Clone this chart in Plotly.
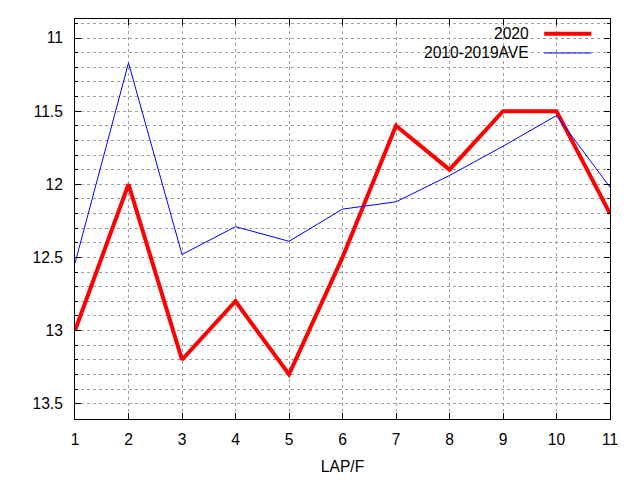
import plotly.graph_objects as go

laps = [1, 2, 3, 4, 5, 6, 7, 8, 9, 10, 11]
times_2020 = [13.0, 12.0, 13.2, 12.8, 13.3, 12.5, 11.6, 11.9, 11.5, 11.5, 12.2]
times_ave = [12.54, 11.17, 12.48, 12.29, 12.39, 12.17, 12.12, 11.94, 11.74, 11.53, 12.02]
legend_names = ["2020", "2010-2019AVE"]
colors = ["#ff0000", "#0000ff"]
widths = [4, 1]

FS = 15.6

fig = go.Figure()
for name, ys, c, w in zip(legend_names, [times_2020, times_ave], colors, widths):
    fig.add_trace(go.Scatter(x=laps, y=ys, mode="lines", name=name,
                             line=dict(color=c, width=w), showlegend=False))

# gnuplot style key: text right aligned, sample line to the right
key_y = [0.963, 0.915]
for name, c, w, ky in zip(legend_names, colors, widths, key_y):
    fig.add_annotation(xref="paper", yref="paper", x=0.853, y=ky, text=name,
                       showarrow=False, xanchor="right", yanchor="middle",
                       font=dict(size=FS, color="black"))
    fig.add_shape(type="line", xref="paper", yref="paper",
                  x0=0.877, x1=0.965, y0=ky, y1=ky,
                  line=dict(color=c, width=w))

grid = dict(gridcolor="#a0a0a0", griddash="3px,3px", gridwidth=1)

fig.update_xaxes(range=[1, 11], dtick=1, ticks="inside", ticklen=6,
                 showline=True, linecolor="black", linewidth=1, mirror="allticks",
                 tickcolor="black", tickfont=dict(size=FS), ticklabelstandoff=6,
                 title=dict(text="LAP/F", standoff=14, font=dict(size=FS)),
                 zeroline=False, **grid)
fig.update_yaxes(range=[13.605, 10.87], dtick=0.5, tick0=11, ticks="inside", ticklen=6,
                 showline=True, linecolor="black", linewidth=1, mirror="allticks",
                 tickcolor="black", tickfont=dict(size=FS), zeroline=False,
                 ticklabelstandoff=8,
                 minor=dict(dtick=0.1, ticks="inside", ticklen=3, tickcolor="black",
                            showgrid=True, **grid),
                 **grid)

# page body adds 8px offset, margins compensate so the plot box sits where it should
fig.update_layout(
    width=640, height=480,
    margin=dict(l=67, r=38, t=11, b=69),
    plot_bgcolor="white", paper_bgcolor="white",
    font=dict(family="Liberation Sans, Arial, sans-serif", size=FS, color="black"),
)

fig.write_html("out.html")
